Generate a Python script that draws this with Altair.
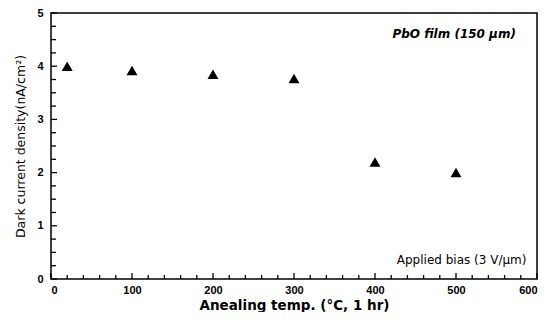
import altair as alt
import pandas as pd

temps = [20, 100, 200, 300, 400, 500]
density = [4.0, 3.92, 3.85, 3.77, 2.2, 2.0]

x_major = [0, 100, 200, 300, 400, 500, 600]
x_minor = [v for v in range(0, 601, 20) if v % 100 != 0]
y_major = [0, 1, 2, 3, 4, 5]
y_minor = [i * 0.25 for i in range(21) if (i * 0.25) % 1 != 0]

W, H = 486, 266
FONT = "Liberation Sans"
TFONT = "DejaVu Sans"

df = pd.DataFrame({"t": temps, "d": density})
xs = alt.Scale(domain=[0, 600], nice=False)
ys = alt.Scale(domain=[0, 5], nice=False)

xaxis = alt.Axis(values=x_major, ticks=False, domain=False, grid=False,
                 labelFont=FONT, labelFontWeight="bold", labelFontSize=11,
                 labelColor="black", labelPadding=5,
                 title="Anealing temp. (°C, 1 hr)", titleFont=TFONT,
                 titleFontSize=13.5, titleFontWeight="bold", titleColor="black",
                 titlePadding=3)
yaxis = alt.Axis(values=y_major, ticks=False, domain=False, grid=False,
                 labelFont=FONT, labelFontWeight="bold", labelFontSize=11,
                 labelColor="black", labelPadding=8,
                 title="Dark current density(nA/cm²)", titleFont=TFONT,
                 titleFontSize=12.5, titleFontWeight="normal", titleColor="black",
                 titlePadding=9)

points = alt.Chart(df).mark_point(shape="triangle-up", filled=True, color="black",
                                  size=120, opacity=1).encode(
    x=alt.X("t:Q", scale=xs, axis=xaxis),
    y=alt.Y("d:Q", scale=ys, axis=yaxis),
)

xmaj = alt.Chart(pd.DataFrame({"v": x_major})).mark_rule(color="black", strokeWidth=1.3).encode(
    x=alt.X("v:Q", scale=xs), y=alt.value(H), y2=alt.value(H - 6))
xmin = alt.Chart(pd.DataFrame({"v": x_minor})).mark_rule(color="black", strokeWidth=1.3).encode(
    x=alt.X("v:Q", scale=xs), y=alt.value(H), y2=alt.value(H - 4))
ymaj = alt.Chart(pd.DataFrame({"v": y_major})).mark_rule(color="black", strokeWidth=1.3).encode(
    y=alt.Y("v:Q", scale=ys), x=alt.value(0), x2=alt.value(6))
ymin = alt.Chart(pd.DataFrame({"v": y_minor})).mark_rule(color="black", strokeWidth=1.3).encode(
    y=alt.Y("v:Q", scale=ys), x=alt.value(0), x2=alt.value(5))

ann1 = alt.Chart(pd.DataFrame({"x": [574], "y": [4.6], "s": ["PbO film (150 μm)"]})).mark_text(
    align="right", baseline="middle", font=TFONT, fontSize=12, fontStyle="italic",
    fontWeight="bold", color="black").encode(
    x=alt.X("x:Q", scale=xs), y=alt.Y("y:Q", scale=ys), text="s:N")
ann2 = alt.Chart(pd.DataFrame({"x": [587], "y": [0.36], "s": ["Applied bias (3 V/μm)"]})).mark_text(
    align="right", baseline="middle", font=TFONT, fontSize=12, color="black").encode(
    x=alt.X("x:Q", scale=xs), y=alt.Y("y:Q", scale=ys), text="s:N")

chart = alt.layer(xmaj, xmin, ymaj, ymin, points, ann1, ann2).properties(
    width=W, height=H,
    autosize=alt.AutoSizeParams(type="none"),
    padding={"left": 43, "top": 5, "right": 1, "bottom": 33},
    background="white",
).configure_view(stroke="black", strokeWidth=1.5)

chart.save("out.html", embed_options={"renderer": "svg", "actions": False})
